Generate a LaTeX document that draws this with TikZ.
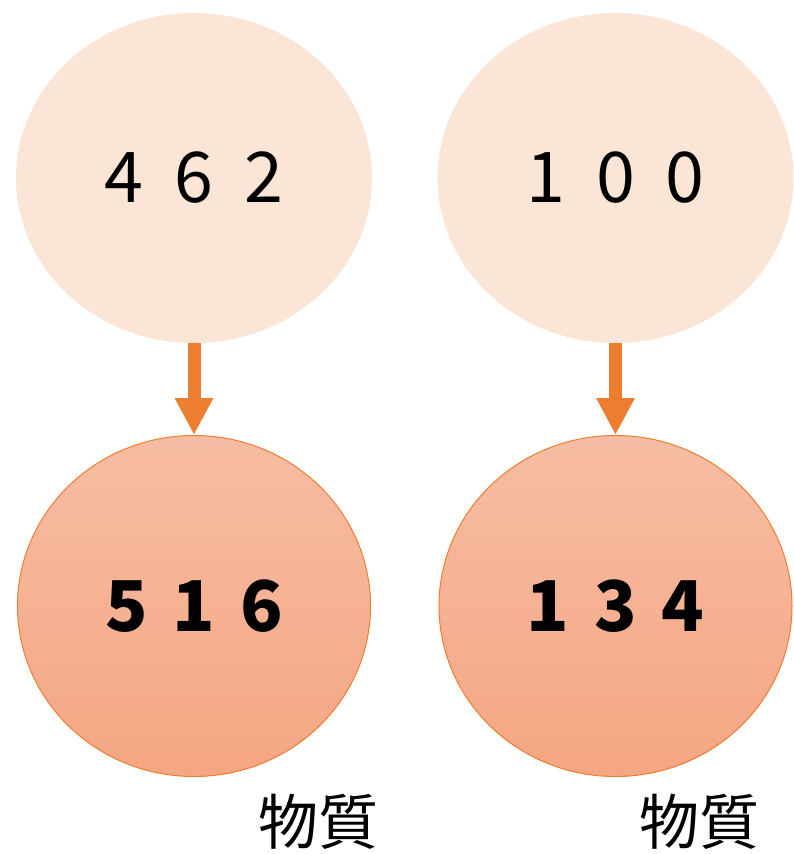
\documentclass[tikz,border=0pt]{standalone}
\usepackage{fontspec}
\setmainfont{Noto Sans CJK JP}
\usetikzlibrary{shapes.geometric,arrows.meta}
\definecolor{lightpeach}{HTML}{FBE5D6}
\definecolor{toppeach}{HTML}{F6BDA4}
\definecolor{botpeach}{HTML}{F5A682}
\definecolor{orangeln}{HTML}{ED7D31}
\tikzset{
  srcnode/.style={ellipse, fill=lightpeach, draw=none, inner sep=0pt,
    minimum width=356pt, minimum height=330pt,
    font=\fontsize{70}{70}\selectfont},
  resnode/.style={ellipse, top color=toppeach, bottom color=botpeach, draw=orangeln, line width=1pt, inner sep=0pt,
    minimum width=353pt, minimum height=341pt,
    font=\fontsize{70}{70}\selectfont\bfseries},
  flowarrow/.style={draw=orangeln, line width=13pt, -{Triangle[width=36pt,length=37pt]}},
  lbl/.style={font=\fontsize{60}{60}\selectfont, inner sep=0pt}
}
\newcommand{\dgap}{\hspace{31pt}}
\newcommand{\bgap}{\hspace{25pt}}
\begin{document}
\begin{tikzpicture}[x=1pt,y=-1pt]
\useasboundingbox (0,0) rectangle (793,854);
\node[srcnode] (a1) at (194,178) {4\dgap 6\dgap 2};
\node[srcnode] (a2) at (615.5,178) {1\dgap 0\dgap 0};
\node[resnode] (b1) at (194,606) {5\bgap 1\bgap 6};
\node[resnode] (b2) at (615.5,606) {1\bgap 3\bgap 4};
\draw[flowarrow] (a1.south) -- (b1.north);
\draw[flowarrow] (a2.south) -- (b2.north);
\node[lbl] (l1) at (318,822) {物質};
\node[lbl] (l2) at (699,822) {物質};
\end{tikzpicture}
\end{document}
